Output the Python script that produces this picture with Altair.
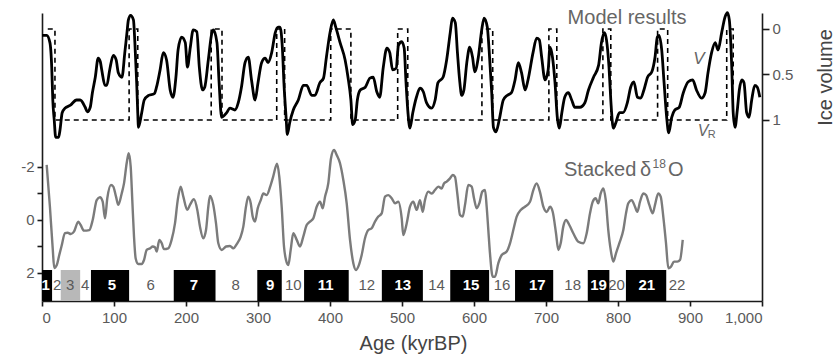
import altair as alt
import pandas as pd

# ---------------- data ----------------
model_age = [0, 6.5, 11, 13.5, 15, 17, 19, 23, 25, 28, 32, 39, 48, 53, 60, 63, 67, 70, 74, 78, 81, 83,
             87.5, 90, 94, 99, 103, 106, 111, 115, 118, 120, 123, 127, 129, 131.5, 133, 134, 138.5, 142,
             148, 156, 159, 164, 168.5, 173, 178, 182, 186, 189, 194, 199, 202, 206, 210, 215, 218.5,
             223, 226, 231, 236, 238, 243, 246, 249.5, 256.5, 261, 268, 272.6, 277, 282, 286.5, 291,
             296, 300, 305, 310, 314, 319, 324, 328, 330.5, 334, 336, 339, 340.7, 344, 349, 356, 363,
             367.6, 374.6, 379, 386, 391, 395, 400, 404.6, 408, 414, 421, 425, 429, 431.5, 435, 438,
             442, 449, 455.5, 460, 465, 469, 474, 479, 483, 487, 492, 495, 499.6, 503, 505.6, 508, 511,
             515, 520, 525, 529.6, 534, 541, 546, 550, 557, 562, 567, 570, 574, 577, 580, 583, 586,
             590, 594, 598, 601, 606, 610.7, 614, 618.5, 621, 624.6, 627, 630.5, 635, 640.7, 646, 652,
             657, 661.5, 666, 671, 675, 682, 687, 690.7, 694, 698.6, 703, 705.5, 709, 712.5, 715.7,
             718.5, 722, 726, 731, 735.7, 740, 747, 754, 759, 766, 773, 777, 781, 784, 787.5, 790,
             793.5, 797, 802, 807, 813, 817.6, 822, 827, 831.5, 836, 841, 847, 851.4, 854.6, 857,
             860.7, 864, 867.6, 870.4, 874.6, 879, 885, 890.7, 897.6, 903.8, 909, 916, 921, 925, 930,
             935, 939, 944, 948.6, 952, 954.6, 958, 960, 962.5, 965.7, 968.5, 972, 975, 978.7, 982,
             985.7, 990, 993.5, 997]
model_vol = [0.07, 0.07, 0.15, 0.42, 0.78, 1.0, 1.19, 1.19, 1.11, 0.92, 0.87, 0.84, 0.78, 0.78, 0.86,
             0.91, 0.86, 0.70, 0.53, 0.32, 0.36, 0.45, 0.62, 0.62, 0.45, 0.29, 0.34, 0.48, 0.53, 0.26,
             0.04, -0.10, -0.15, -0.10, 0.15, 0.59, 0.92, 1.08, 0.92, 0.78, 0.73, 0.71, 0.64, 0.45,
             0.26, 0.34, 0.67, 0.75, 0.53, 0.23, 0.09, 0.15, 0.42, 0.20, 0.01, 0.03, 0.42, 0.67, 0.64,
             0.34, 0.04, 0.01, 0.15, 0.59, 0.97, 0.92, 0.87, 0.89, 0.81, 0.64, 0.37, 0.31, 0.56, 0.78,
             0.59, 0.37, 0.32, 0.37, 0.26, 0.04, -0.02, -0.02, 0.23, 0.59, 0.97, 1.16, 1.03, 0.89,
             0.78, 0.62, 0.62, 0.73, 0.73, 0.59, 0.54, 0.31, 0.04, -0.10, -0.02, 0.15, 0.34, 0.53,
             0.78, 1.05, 1.0, 0.78, 0.67, 0.64, 0.54, 0.53, 0.69, 0.75, 0.42, 0.21, 0.26, 0.45, 0.43,
             0.18, 0.14, 0.21, 0.59, 0.89, 1.09, 0.92, 0.75, 0.65, 0.69, 0.81, 0.87, 0.78, 0.59, 0.53,
             0.34, 0.04, -0.12, -0.07, 0.26, 0.56, 0.73, 0.67, 0.37, 0.20, 0.31, 0.47, 0.31, 0.01,
             -0.12, -0.02, 0.23, 0.70, 1.08, 1.13, 1.0, 0.78, 0.73, 0.70, 0.56, 0.37, 0.48, 0.67, 0.56,
             0.26, 0.10, 0.12, 0.31, 0.56, 0.45, 0.20, 0.31, 0.59, 0.97, 1.09, 0.92, 0.75, 0.70, 0.78,
             0.86, 0.86, 0.81, 0.67, 0.53, 0.40, 0.15, 0.04, 0.12, 0.42, 0.78, 1.09, 1.03, 0.92, 0.92,
             0.81, 0.64, 0.58, 0.75, 0.76, 0.67, 0.53, 0.47, 0.31, 0.09, 0.07, 0.23, 0.59, 0.97, 1.14,
             0.97, 0.89, 0.86, 0.70, 0.58, 0.56, 0.67, 0.76, 0.70, 0.48, 0.26, 0.15, 0.23, 0.04,
             -0.13, -0.18, -0.10, 0.42, 0.92, 1.08, 0.89, 0.67, 0.56, 0.59, 0.92, 0.97, 0.78, 0.62,
             0.64, 0.75]

threshold_age = [8, 18, 18, 121, 121, 133, 133, 235, 235, 250, 250, 326, 326, 337, 337, 401, 401,
                 429, 429, 494, 494, 508, 508, 611, 611, 626, 626, 704, 704, 715, 715, 779, 779, 790,
                 790, 855, 855, 869, 869, 951, 951, 960, 960]
threshold_vol = [0, 0, 1, 1, 0, 0, 1, 1, 0, 0, 1, 1, 0, 0, 1, 1, 0, 0, 1, 1, 0, 0, 1, 1, 0, 0, 1, 1,
                 0, 0, 1, 1, 0, 0, 1, 1, 0, 0, 1, 1, 0, 0, 0.65]

d18o_age = [6.5, 11, 15, 17, 20.5, 24, 27, 32, 35.7, 40, 44.4, 50.4, 53.7, 58.3, 65.7, 70.4, 76, 80.5,
            84.3, 87.5, 90.7, 95.8, 99, 102.8, 106, 110.7, 113.9, 117.6, 120.4, 123.2, 125.4, 127.8,
            130.1, 133.8, 138.5, 141.7, 145.4, 150, 153.8, 156.9, 159.3, 163, 166.3, 169.4, 175.4,
            180, 184.7, 188.5, 192.6, 196.3, 201.8, 205.5, 211, 215.7, 219.4, 224, 227.8, 231, 233.3,
            237.9, 241.7, 244.9, 249.6, 255.6, 261.1, 265.7, 271.2, 276, 279.6, 283.3, 286.5, 289.9,
            292.6, 295.8, 299.6, 303.8, 307.4, 312, 317.6, 321, 326.5, 329.6, 332.9, 336.1, 338.9,
            342.1, 345.4, 349, 353.8, 358.3, 362.9, 367.6, 372.2, 376.8, 381.5, 386.1, 389.9, 393.1,
            397.6, 401.4, 405.6, 409.3, 413.9, 418.5, 423.2, 427.8, 432.4, 436.1, 439.3, 444, 448.6,
            453.2, 457.9, 462.5, 467.1, 471.8, 476.4, 481, 485.7, 490.3, 494.9, 499.6, 501.8, 506.5,
            511.1, 515.7, 520.4, 525, 528.8, 531.9, 536.5, 541.3, 545.8, 550.4, 555.1, 558.3, 562.1,
            566.7, 570.4, 573.6, 576.8, 580.6, 584.3, 587.5, 592.1, 596.8, 600, 603.8, 607.4, 611.5,
            615.3, 617.6, 619.9, 622.2, 626, 629.2, 633.8, 638.5, 645.4, 650, 654.6, 659.3, 664.9,
            670.8, 677.8, 682.4, 687, 691.7, 696.3, 701, 705.6, 709.3, 713.9, 717.1, 720.4, 724,
            727.8, 732.4, 737.9, 744.9, 751.8, 756.5, 761.1, 764.9, 769, 772.6, 776, 779.6, 783,
            786.5, 789.9, 793.5, 797.2, 801.8, 807.4, 811.1, 814.3, 819, 823.6, 826.8, 830.6, 835.1,
            838.9, 843.5, 848.2, 851.4, 855.9, 859.3, 862.9, 866.7, 869.9, 873.6, 877.8, 882.4,
            886.1, 889.9]
d18o_val = [-2.08, -0.5, 1.13, 1.81, 1.7, 1.32, 1.0, 0.5, 0.48, 0.53, 0.44, 0.06, 0.19, 0.4, 0.38, 0.0,
            -0.75, -0.86, -0.69, -0.06, -0.82, -1.32, -1.26, -0.88, -0.57, -1.0, -1.38, -2.14, -2.52,
            -2.01, -0.75, 0.63, 1.45, 1.66, 1.66, 1.51, 1.13, 1.07, 1.0, 1.03, 1.19, 0.75, 0.88, 1.1,
            1.07, 0.75, 0.13, -0.75, -1.26, -0.88, -0.38, -0.57, -0.78, -0.38, 0.25, 0.69, 0.38,
            -0.5, -0.91, -0.57, 0.13, 0.88, 1.13, 1.0, 0.98, 1.07, 0.88, 0.63, 0.25, -0.5, -0.88,
            -0.63, -0.13, 0.06, -0.44, -0.75, -1.0, -0.94, -1.32, -1.63, -2.12, -1.63, -0.5, 1.0,
            1.51, 1.7, 1.13, 0.5, 0.75, 1.0, 0.63, 0.19, 0.06, -0.06, -0.5, -0.69, -0.44, -0.88,
            -1.38, -2.33, -2.64, -2.45, -2.14, -1.51, -0.63, 0.75, 1.63, 1.89, 1.76, 1.32, 0.69,
            0.38, 0.31, 0.06, -0.13, -0.25, -0.88, -0.94, -0.82, -0.63, -0.69, -0.06, 0.57, 0.13,
            -0.5, -0.69, -0.38, -0.75, -0.31, -0.75, -1.07, -1.0, -1.13, -1.26, -1.19, -1.38, -1.45,
            -1.57, -1.7, -1.63, -1.0, -0.19, -0.13, -0.57, -1.32, -1.26, -0.82, -0.44, -0.63, -1.07,
            -1.13, -0.5, 0.38, 1.26, 2.14, 2.14, 1.63, 1.32, 1.19, 0.88, 0.38, -0.13, -0.38, -0.5,
            -0.69, -1.13, -1.38, -1.05, -0.5, -0.3, -0.5, -0.31, 0.5, 1.13, 0.88, 0.25, 0.0, 0.19,
            0.5, 0.82, 0.88, 0.5, -0.25, -0.69, -0.82, -0.63, -1.0, -1.19, -0.75, 0.38, 1.13, 1.57,
            1.26, 0.88, 0.38, -0.25, -0.63, -0.75, -0.5, -0.31, -0.69, -1.0, -0.94, -0.57, -0.25,
            -0.57, -1.0, -0.88, -0.13, 0.88, 1.82, 1.76, 1.57, 1.57, 1.51, 0.75]

box_stage = [1, 3, 5, 7, 9, 11, 13, 15, 17, 19, 21]
box_start = [0, 26, 68, 183, 299, 364, 472, 567, 657, 758, 811]
box_end = [14, 53, 121, 241, 333, 426, 529, 621, 710, 788, 867]

stage_label = [str(i) for i in range(1, 23)]
stage_age = [5, 21, 39, 60, 97, 151, 211, 269, 317, 349, 394, 451, 501, 548, 596, 639, 688, 737,
             773, 798, 840, 882]

x_ticks = [0, 100, 200, 300, 400, 500, 600, 700, 800, 900, 1000]
ice_ticks = [0, 0.5, 1]
d18o_ticks = [-2, -1, 0, 1, 2]

# ---------------- tables ----------------
model_df = pd.DataFrame({"age": model_age, "v": model_vol})
thr_df = pd.DataFrame({"age": threshold_age, "v": threshold_vol, "i": range(len(threshold_age))})
d18o_df = pd.DataFrame({"age": d18o_age, "d": d18o_val})
box_df = pd.DataFrame({"stage": box_stage, "start": box_start, "end": box_end})
box_df["kind"] = ["grey" if s == 3 else "black" for s in box_stage]
lab_df = pd.DataFrame({"label": stage_label, "age": stage_age})
lab_df["boxed"] = [(int(s) % 2 == 1 and int(s) != 3) for s in stage_label]

# ---------------- scales / axes ----------------
TXT = "#5a5a5a"
FONT = "Liberation Sans"
xscale = alt.Scale(domain=[0, 1000], nice=False, zero=False)
xaxis = alt.Axis(values=x_ticks, labelExpr="format(datum.value, ',')", title="Age (kyrBP)", grid=False,
                 titleX=371, titleY=42, titleBaseline="middle", titleAlign="center",
                 titleFontSize=20, titleFontWeight="normal", titleColor="#444",
                 labelPadding=4)
ice_scale = alt.Scale(domain=[-0.1758, 2.989], reverse=True, nice=False, zero=False)
d_scale = alt.Scale(domain=[-7.811, 3.057], reverse=True, nice=False, zero=False)


def X(field="age"):
    return alt.X(field, type="quantitative", scale=xscale, axis=xaxis)


bands = alt.Chart(box_df).mark_rect().encode(
    x=X("start"), x2="end",
    y=alt.YDatum(1.887, scale=d_scale, axis=None), y2=alt.Y2Datum(3.057),
    color=alt.Color("kind:N", scale=alt.Scale(domain=["black", "grey"], range=["#000000", "#b8b8b8"]),
                    legend=None),
)

lab_plain = alt.Chart(lab_df).transform_filter("!datum.boxed").mark_text(
    font=FONT, fontSize=15, color=TXT, baseline="middle", align="center"
).encode(x=X("age"), y=alt.YDatum(2.45, scale=d_scale, axis=None), text="label:N")

lab_boxed = alt.Chart(lab_df).transform_filter("datum.boxed").mark_text(
    font=FONT, fontSize=15, fontWeight="bold", color="white", baseline="middle", align="center"
).encode(x=X("age"), y=alt.YDatum(2.45, scale=d_scale, axis=None), text="label:N")

d_line = alt.Chart(d18o_df).mark_line(color="#7b7b7b", strokeWidth=2.4, interpolate="monotone").encode(
    x=X("age"),
    y=alt.Y("d:Q", scale=d_scale,
            axis=alt.Axis(orient="left", values=d18o_ticks, title=None, grid=False,
                          labelExpr="datum.value == -2 ? '-2' : datum.value == 0 ? '0' : datum.value == 2 ? '2' : ''",
                          labelPadding=3)),
)

model_line = alt.Chart(model_df).mark_line(color="#000000", strokeWidth=2.8, interpolate="monotone").encode(
    x=X("age"),
    y=alt.Y("v:Q", scale=ice_scale,
            axis=alt.Axis(orient="right", values=ice_ticks, labelExpr="format(datum.value, '~g')",
                          title="Ice volume", grid=False,
                          tickSize=7, labelPadding=3,
                          titleAngle=270, titleX=63, titleY=64, titleAlign="center",
                          titleBaseline="middle", titleFontSize=20, titleFontWeight="normal",
                          titleColor="#444")),
)

thr_line = alt.Chart(thr_df).mark_line(color="#000000", strokeWidth=1.6, strokeDash=[5, 4]).encode(
    x=X("age"), y=alt.Y("v:Q", scale=ice_scale, axis=None), order="i:Q"
)


def note(text, age, val, scale, size, **kw):
    return alt.Chart(pd.DataFrame({"t": [text], "age": [age]})).mark_text(
        font=FONT, fontSize=size, color="#666", baseline="middle", **kw
    ).encode(x=X("age"), y=alt.YDatum(val, scale=scale, axis=None), text="t:N")


notes = [
    note("Model results", 730, -0.12, ice_scale, 20, align="left"),
    note("V", 912.5, 0.33, ice_scale, 17, align="center", fontStyle="italic"),
    note("V", 918, 1.12, ice_scale, 16, align="center", fontStyle="italic"),
    note("R", 930, 1.16, ice_scale, 11, align="center"),
    note("Stacked", 725, -1.89, d_scale, 20, align="left"),
    note("δ", 830.5, -1.89, d_scale, 20, align="left"),
    note("18", 848, -2.1, d_scale, 12, align="left"),
    note("O", 869.4, -1.89, d_scale, 20, align="left"),
]

chart = alt.layer(
    bands, lab_plain, lab_boxed, d_line, thr_line, model_line, *notes
).resolve_scale(y="independent").properties(
    width=720, height=288,
    autosize=alt.AutoSizeParams(type="none"),
    padding={"left": 42, "top": 13, "right": 74, "bottom": 54},
    background="white",
).configure_view(strokeWidth=0).configure_axis(
    domainColor="#1a1a1a", domainWidth=1.6, tickColor="#1a1a1a", tickWidth=1.6, tickSize=5,
    labelFont=FONT, labelFontSize=15, labelColor=TXT, titleFont=FONT,
)

chart.save("out.html", embed_options={"renderer": "svg", "actions": False})
